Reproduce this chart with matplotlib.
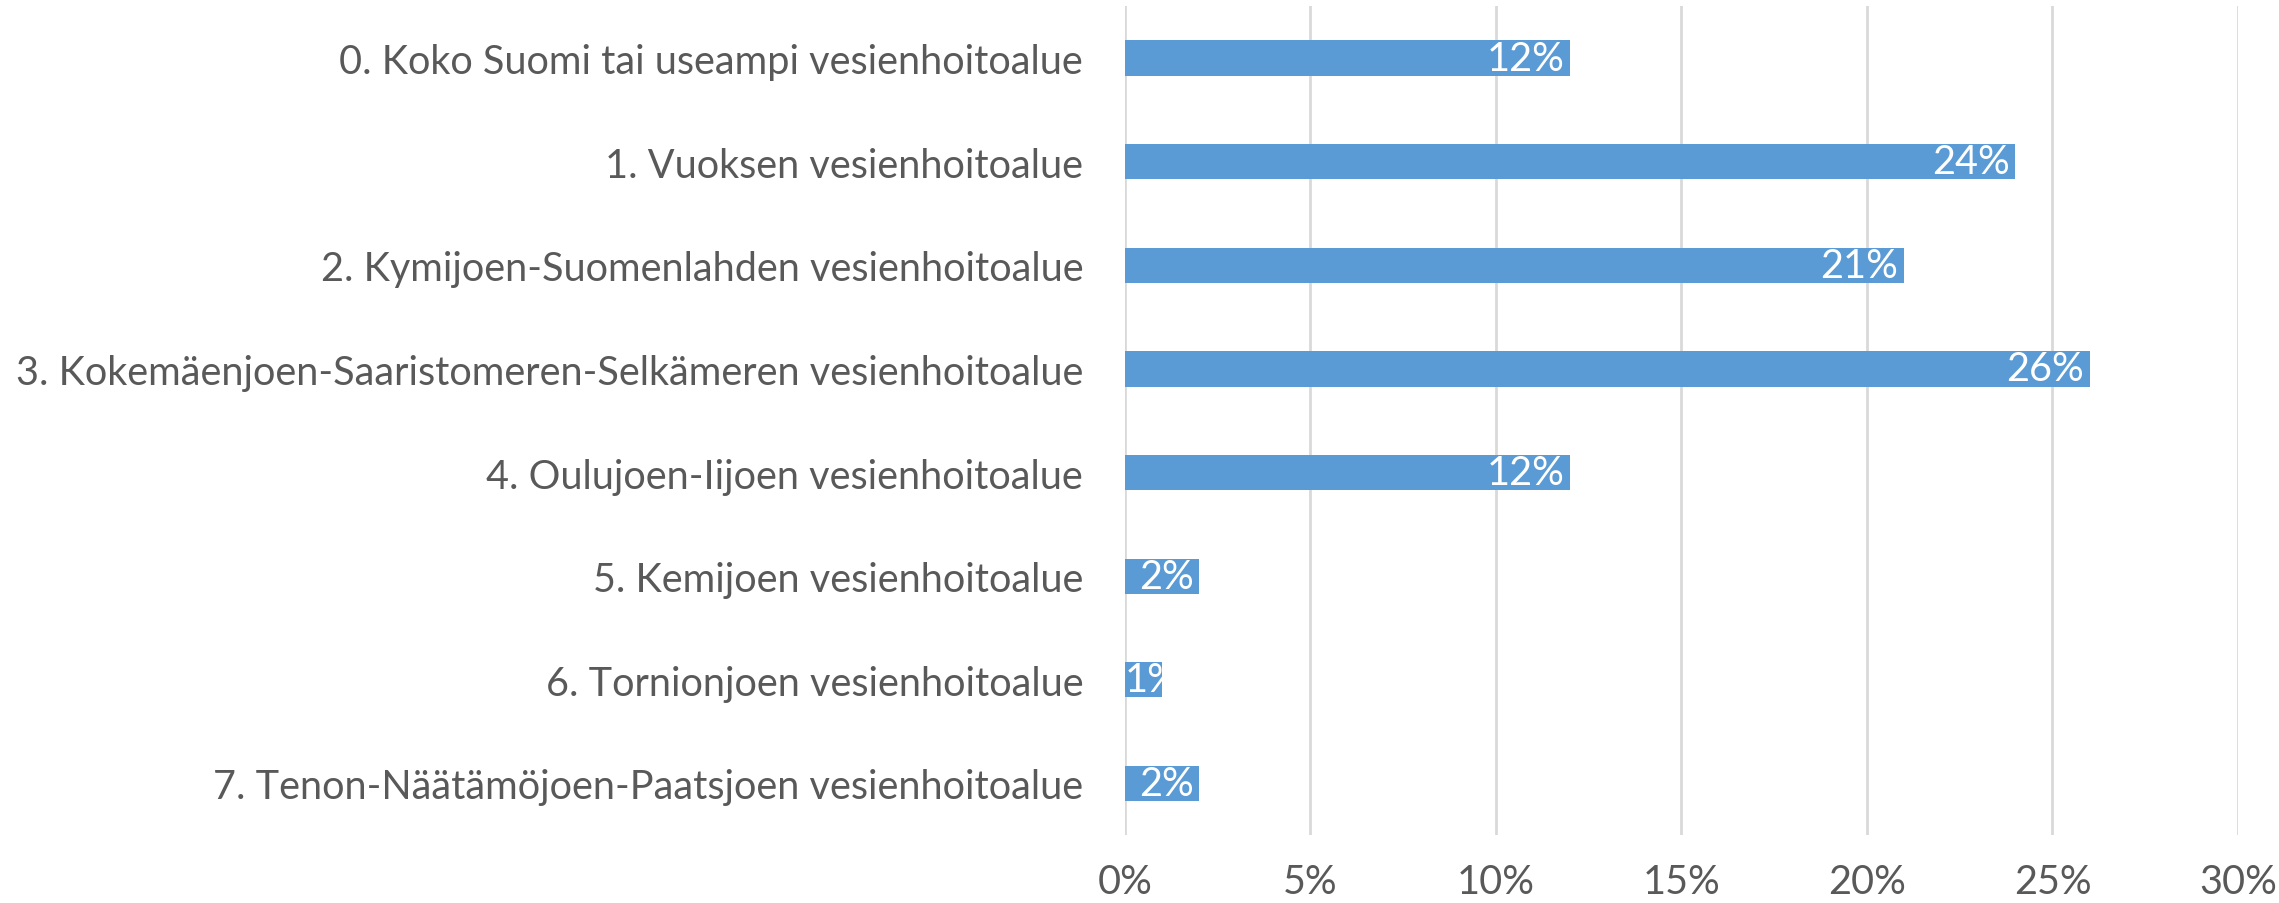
import matplotlib
matplotlib.use("Agg")
import matplotlib.pyplot as plt
import numpy as np

regions = [
    "0. Koko Suomi tai useampi vesienhoitoalue",
    "1. Vuoksen vesienhoitoalue",
    "2. Kymijoen-Suomenlahden vesienhoitoalue",
    "3. Kokemäenjoen-Saaristomeren-Selkämeren vesienhoitoalue",
    "4. Oulujoen-Iijoen vesienhoitoalue",
    "5. Kemijoen vesienhoitoalue",
    "6. Tornionjoen vesienhoitoalue",
    "7. Tenon-Näätämöjoen-Paatsjoen vesienhoitoalue",
]
shares = [12, 24, 21, 26, 12, 2, 1, 2]
xticks = [0, 5, 10, 15, 20, 25, 30]

bar_color = "#5B9BD5"
text_color = "#595959"
grid_color = "#D9D9D9"
fs = 28.5

plt.rcParams['font.family'] = ['Lato', 'DejaVu Sans']

fig = plt.figure(figsize=(22.79, 9.04), dpi=100)
ax = fig.add_axes([0.4936, 0.075, 0.982 - 0.4936, 0.917])

y = np.arange(len(regions))
ax.barh(y, shares, height=0.34, color=bar_color, zorder=2)

for yi, v in zip(y, shares):
    if v < 1.5:
        ax.text(0, yi, f"{v}%", ha='left', va='center', color='white',
                fontsize=fs, zorder=3)
    else:
        ax.text(v - 0.15, yi, f"{v}%", ha='right', va='center', color='white',
                fontsize=fs, zorder=3)

ax.set_xlim(0, 30)
ax.set_ylim(len(regions) - 0.5, -0.5)
ax.set_xticks(xticks)
ax.set_xticklabels([f"{t}%" for t in xticks])
ax.set_yticks(y)
ax.set_yticklabels(regions)
ax.tick_params(axis='x', length=0, pad=20, labelsize=fs, labelcolor=text_color)
ax.tick_params(axis='y', length=0, pad=30, labelsize=fs, labelcolor=text_color)
ax.grid(axis='x', color=grid_color, linewidth=2, zorder=0)
for s in ax.spines.values():
    s.set_visible(False)

fig.savefig("out.png", dpi=100)
